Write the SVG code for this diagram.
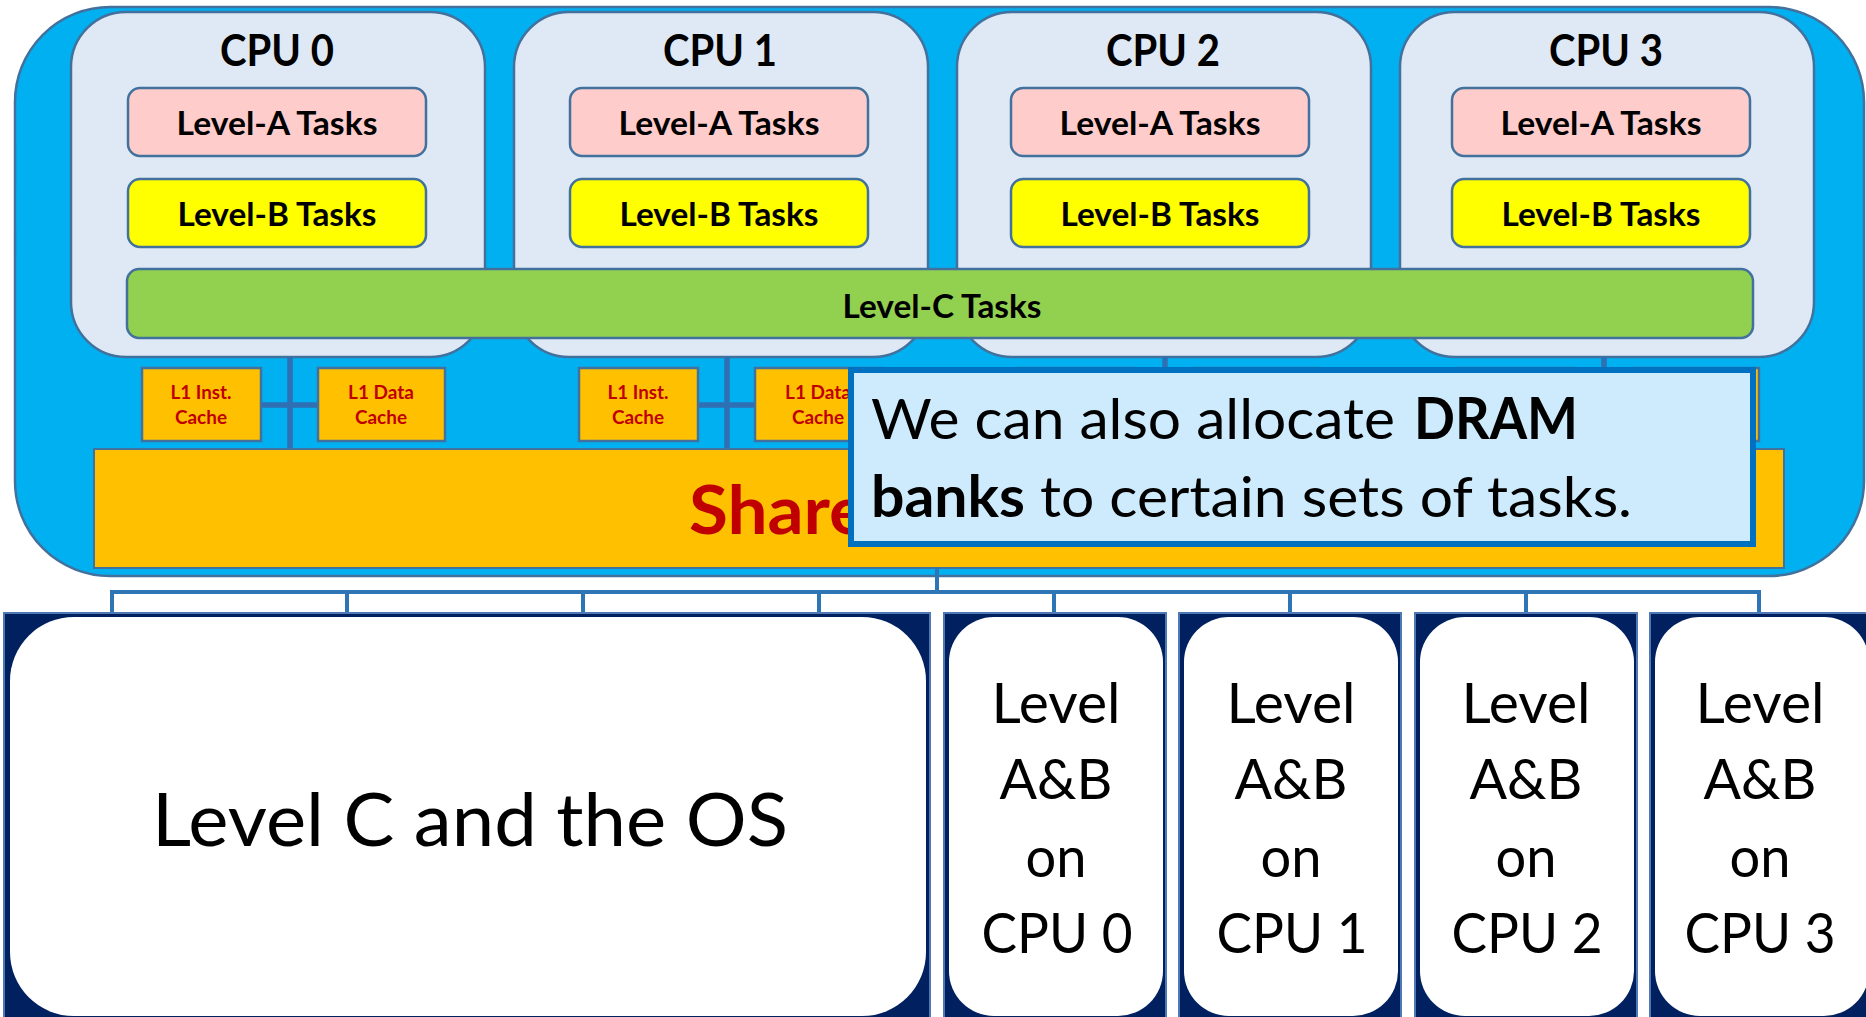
<svg xmlns="http://www.w3.org/2000/svg" width="1866" height="1017" viewBox="0 0 1866 1017">
  <style>
    text { font-family: Lato, "Open Sans", "Liberation Sans", sans-serif; fill: #000; }
    .b { font-weight: 700; }
    .mid { text-anchor: middle; }
    .chip { fill: #00b0f0; stroke: #41719c; stroke-width: 2.5; }
    .cpu { fill: #dfe9f5; stroke: #41719c; stroke-width: 2.5; }
    .la { fill: #ffcccc; stroke: #41719c; stroke-width: 2.5; }
    .lb { fill: #ffff00; stroke: #41719c; stroke-width: 2.5; }
    .lc { fill: #92d050; stroke: #41719c; stroke-width: 2.5; }
    .l1 { fill: #ffc000; stroke: #41719c; stroke-width: 2.5; }
    .l2 { fill: #ffc000; stroke: #41719c; stroke-width: 2; }
    .title { font-size: 43px; font-weight: 700; }
    .task { font-size: 32.5px; font-weight: 700; }
    .l1t { font-size: 19.5px; font-weight: 700; fill: #c00000; }
    .link { stroke: #2f6fb3; stroke-width: 5.5; fill: none; }
    .bus { stroke: #2e75b6; stroke-width: 4; fill: none; }
    .bankbg { fill: #002060; stroke: #4f79b5; stroke-width: 2; }
    .bankfg { fill: #ffffff; }
    .bankt { font-size: 56px; }
    .note { fill: #cdebfc; stroke: #0070c0; stroke-width: 6; }
    .notet { font-size: 57px; }
  </style>

  <!-- processor chip -->
  <rect id="chip" class="chip" x="15" y="7" width="1849" height="569" rx="95"/>

  <!-- CPU cores -->
  <g id="cpu0">
    <rect class="cpu" x="71" y="12" width="414" height="345" rx="55"/>
    <text class="title mid" x="277" y="66" textLength="114" lengthAdjust="spacingAndGlyphs">CPU 0</text>
    <g id="cpu0-a">
      <rect class="la" x="128" y="88" width="298" height="68" rx="12"/>
      <text class="task mid" x="277" y="135" textLength="201" lengthAdjust="spacingAndGlyphs">Level-A Tasks</text>
    </g>
    <g id="cpu0-b">
      <rect class="lb" x="128" y="179" width="298" height="68" rx="12"/>
      <text class="task mid" x="277" y="226" textLength="199" lengthAdjust="spacingAndGlyphs">Level-B Tasks</text>
    </g>
  </g>
  <g id="cpu1">
    <rect class="cpu" x="514" y="12" width="414" height="345" rx="55"/>
    <text class="title mid" x="720" y="66" textLength="114" lengthAdjust="spacingAndGlyphs">CPU 1</text>
    <g id="cpu1-a">
      <rect class="la" x="570" y="88" width="298" height="68" rx="12"/>
      <text class="task mid" x="719" y="135" textLength="201" lengthAdjust="spacingAndGlyphs">Level-A Tasks</text>
    </g>
    <g id="cpu1-b">
      <rect class="lb" x="570" y="179" width="298" height="68" rx="12"/>
      <text class="task mid" x="719" y="226" textLength="199" lengthAdjust="spacingAndGlyphs">Level-B Tasks</text>
    </g>
  </g>
  <g id="cpu2">
    <rect class="cpu" x="957" y="12" width="414" height="345" rx="55"/>
    <text class="title mid" x="1163" y="66" textLength="114" lengthAdjust="spacingAndGlyphs">CPU 2</text>
    <g id="cpu2-a">
      <rect class="la" x="1011" y="88" width="298" height="68" rx="12"/>
      <text class="task mid" x="1160" y="135" textLength="201" lengthAdjust="spacingAndGlyphs">Level-A Tasks</text>
    </g>
    <g id="cpu2-b">
      <rect class="lb" x="1011" y="179" width="298" height="68" rx="12"/>
      <text class="task mid" x="1160" y="226" textLength="199" lengthAdjust="spacingAndGlyphs">Level-B Tasks</text>
    </g>
  </g>
  <g id="cpu3">
    <rect class="cpu" x="1400" y="12" width="414" height="345" rx="55"/>
    <text class="title mid" x="1606" y="66" textLength="114" lengthAdjust="spacingAndGlyphs">CPU 3</text>
    <g id="cpu3-a">
      <rect class="la" x="1452" y="88" width="298" height="68" rx="12"/>
      <text class="task mid" x="1601" y="135" textLength="201" lengthAdjust="spacingAndGlyphs">Level-A Tasks</text>
    </g>
    <g id="cpu3-b">
      <rect class="lb" x="1452" y="179" width="298" height="68" rx="12"/>
      <text class="task mid" x="1601" y="226" textLength="199" lengthAdjust="spacingAndGlyphs">Level-B Tasks</text>
    </g>
  </g>

  <!-- Level-C spans all cores -->
  <g id="level-c">
    <rect class="lc" x="127" y="269" width="1626" height="69" rx="12"/>
    <text class="task mid" x="942" y="318" textLength="199" lengthAdjust="spacingAndGlyphs">Level-C Tasks</text>
  </g>

  <!-- core to cache wiring -->
  <g id="core-links">
    <path class="link" d="M290 357V449M261 405H318"/>
    <path class="link" d="M727 357V449M698 405H755"/>
    <path class="link" d="M1165 357V449M1136 405H1193"/>
    <path class="link" d="M1604 357V449M1575 405H1632"/>
  </g>

  <!-- private L1 caches -->
  <g id="cpu0-l1i">
    <rect class="l1" x="142" y="368" width="119" height="73"/>
    <text class="l1t mid" x="201" y="399" textLength="61" lengthAdjust="spacingAndGlyphs">L1 Inst.</text>
    <text class="l1t mid" x="201" y="424" textLength="52" lengthAdjust="spacingAndGlyphs">Cache</text>
  </g>
  <g id="cpu0-l1d">
    <rect class="l1" x="318" y="368" width="127" height="73"/>
    <text class="l1t mid" x="381" y="399" textLength="66" lengthAdjust="spacingAndGlyphs">L1 Data</text>
    <text class="l1t mid" x="381" y="424" textLength="52" lengthAdjust="spacingAndGlyphs">Cache</text>
  </g>
  <g id="cpu1-l1i">
    <rect class="l1" x="579" y="368" width="119" height="73"/>
    <text class="l1t mid" x="638" y="399" textLength="61" lengthAdjust="spacingAndGlyphs">L1 Inst.</text>
    <text class="l1t mid" x="638" y="424" textLength="52" lengthAdjust="spacingAndGlyphs">Cache</text>
  </g>
  <g id="cpu1-l1d">
    <rect class="l1" x="755" y="368" width="127" height="73"/>
    <text class="l1t mid" x="818" y="399" textLength="66" lengthAdjust="spacingAndGlyphs">L1 Data</text>
    <text class="l1t mid" x="818" y="424" textLength="52" lengthAdjust="spacingAndGlyphs">Cache</text>
  </g>
  <g id="cpu2-l1i"><rect class="l1" x="1017" y="368" width="119" height="73"/></g>
  <g id="cpu2-l1d"><rect class="l1" x="1193" y="368" width="127" height="73"/></g>
  <g id="cpu3-l1i"><rect class="l1" x="1456" y="368" width="119" height="73"/></g>
  <g id="cpu3-l1d"><rect class="l1" x="1632" y="368" width="127" height="73"/></g>

  <!-- shared last-level cache -->
  <g id="shared-cache">
    <rect class="l2" x="94" y="449" width="1690" height="119"/>
    <text class="b" x="689" y="534" font-size="67" fill="#c00000" style="fill:#c00000" textLength="178" lengthAdjust="spacingAndGlyphs">Share</text>
  </g>

  <!-- memory bus to DRAM banks -->
  <g id="bus">
    <path class="bus" d="M937 568V592M110 592H1761"/>
    <path class="bus" d="M112 592V614M347 592V614M583 592V614M819 592V614M1054 592V614M1290 592V614M1526 592V614M1759 592V614"/>
  </g>

  <!-- DRAM bank partitions -->
  <g id="bank-c">
    <rect class="bankbg" x="4" y="613" width="926" height="410"/>
    <rect class="bankfg" x="10" y="617" width="916" height="399" rx="64"/>
    <text class="mid" x="470" y="846" font-size="74" textLength="636" lengthAdjust="spacingAndGlyphs">Level C and the OS</text>
  </g>
  <g id="bank-cpu0">
    <rect class="bankbg" x="944" y="613" width="222" height="410"/>
    <rect class="bankfg" x="949" y="617" width="214" height="399" rx="45"/>
    <text class="bankt mid" x="1056" y="723" textLength="129" lengthAdjust="spacingAndGlyphs">Level</text>
    <text class="bankt mid" x="1056" y="799" textLength="113" lengthAdjust="spacingAndGlyphs">A&amp;B</text>
    <text class="bankt mid" x="1056" y="877" textLength="61" lengthAdjust="spacingAndGlyphs">on</text>
    <text class="bankt mid" x="1057" y="953" textLength="151" lengthAdjust="spacingAndGlyphs">CPU 0</text>
  </g>
  <g id="bank-cpu1">
    <rect class="bankbg" x="1179" y="613" width="222" height="410"/>
    <rect class="bankfg" x="1184" y="617" width="214" height="399" rx="45"/>
    <text class="bankt mid" x="1291" y="723" textLength="129" lengthAdjust="spacingAndGlyphs">Level</text>
    <text class="bankt mid" x="1291" y="799" textLength="113" lengthAdjust="spacingAndGlyphs">A&amp;B</text>
    <text class="bankt mid" x="1291" y="877" textLength="61" lengthAdjust="spacingAndGlyphs">on</text>
    <text class="bankt mid" x="1292" y="953" textLength="151" lengthAdjust="spacingAndGlyphs">CPU 1</text>
  </g>
  <g id="bank-cpu2">
    <rect class="bankbg" x="1415" y="613" width="222" height="410"/>
    <rect class="bankfg" x="1420" y="617" width="214" height="399" rx="45"/>
    <text class="bankt mid" x="1526" y="723" textLength="129" lengthAdjust="spacingAndGlyphs">Level</text>
    <text class="bankt mid" x="1526" y="799" textLength="113" lengthAdjust="spacingAndGlyphs">A&amp;B</text>
    <text class="bankt mid" x="1526" y="877" textLength="61" lengthAdjust="spacingAndGlyphs">on</text>
    <text class="bankt mid" x="1527" y="953" textLength="151" lengthAdjust="spacingAndGlyphs">CPU 2</text>
  </g>
  <g id="bank-cpu3">
    <rect class="bankbg" x="1650" y="613" width="222" height="410"/>
    <rect class="bankfg" x="1655" y="617" width="214" height="399" rx="45"/>
    <text class="bankt mid" x="1760" y="723" textLength="129" lengthAdjust="spacingAndGlyphs">Level</text>
    <text class="bankt mid" x="1760" y="799" textLength="113" lengthAdjust="spacingAndGlyphs">A&amp;B</text>
    <text class="bankt mid" x="1760" y="877" textLength="61" lengthAdjust="spacingAndGlyphs">on</text>
    <text class="bankt mid" x="1760" y="953" textLength="151" lengthAdjust="spacingAndGlyphs">CPU 3</text>
  </g>

  <!-- annotation box -->
  <g id="note">
    <rect class="note" x="851" y="370" width="902" height="174"/>
    <text class="notet" x="871" y="439" textLength="524" lengthAdjust="spacingAndGlyphs">We can also allocate</text>
    <text class="notet b" x="1414" y="439" textLength="164" lengthAdjust="spacingAndGlyphs">DRAM</text>
    <text class="notet b" x="871" y="517" textLength="154" lengthAdjust="spacingAndGlyphs">banks</text>
    <text class="notet" x="1040" y="517" textLength="592" lengthAdjust="spacingAndGlyphs">to certain sets of tasks.</text>
  </g>
</svg>
